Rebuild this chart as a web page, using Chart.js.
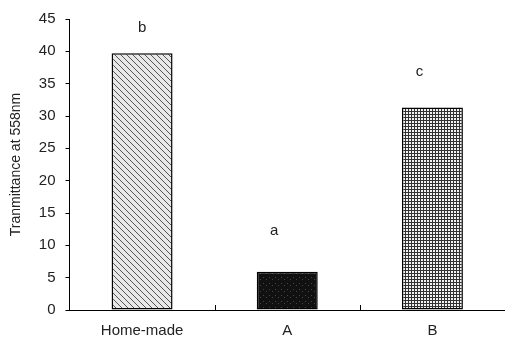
<!DOCTYPE html>
<html>
<head>
<meta charset="utf-8">
<script src="https://cdn.jsdelivr.net/npm/chart.js@4"></script>
<style>
  html, body { margin: 0; padding: 0; background: #fff; }
  #wrap { width: 505px; height: 347px; }
</style>
</head>
<body>
<div id="wrap"><canvas id="chart"></canvas></div>
<script>
var categories = ["Home-made", "A", "B"]
var values = [39.7, 5.9, 31.3]
var letters = ["b", "a", "c"]
var letterValues = [43.6, 12.2, 36.9]
var yTicks = [0, 5, 10, 15, 20, 25, 30, 35, 40, 45]

function makePattern(kind) {
  var c = document.createElement("canvas")
  c.width = 6
  c.height = 6
  var g = c.getContext("2d")
  if (kind === "diag") {
    g.fillStyle = "#e8e8e8"
    g.fillRect(0, 0, 6, 6)
    g.strokeStyle = "#555"
    g.lineWidth = 1
    g.beginPath()
    g.moveTo(0, 0); g.lineTo(6, 6)
    g.moveTo(-3, 3); g.lineTo(3, 9)
    g.moveTo(3, -3); g.lineTo(9, 3)
    g.stroke()
  } else if (kind === "grid") {
    c.width = 3; c.height = 3
    g.fillStyle = "#f2f2f2"
    g.fillRect(0, 0, 3, 3)
    g.fillStyle = "#333"
    g.fillRect(0, 0, 3, 1)
    g.fillRect(0, 0, 1, 3)
  } else {
    g.fillStyle = "#111"
    g.fillRect(0, 0, 6, 6)
    g.fillStyle = "#444"
    g.fillRect(2, 3, 1, 1)
    g.fillRect(5, 1, 1, 1)
  }
  return document.createElement("canvas").getContext("2d").createPattern(c, "repeat")
}

var letterPlugin = {
  id: "letters",
  afterDatasetsDraw: function(chart) {
    var ctx = chart.ctx
    var xs = chart.scales.x, ys = chart.scales.y
    ctx.save()
    ctx.fillStyle = "#222"
    ctx.font = "15px 'Liberation Sans', Arial, sans-serif"
    ctx.textAlign = "center"
    ctx.textBaseline = "middle"
    letters.forEach(function(l, i) {
      var dx = i === 0 ? 0 : -13
      ctx.fillText(l, xs.getPixelForValue(i) + dx, ys.getPixelForValue(letterValues[i]))
    })
    // small ticks between categories, pointing up
    ctx.strokeStyle = "#000"
    ctx.lineWidth = 1
    ctx.beginPath()
    for (var i = 0; i < categories.length - 1; i++) {
      var x = Math.round((xs.getPixelForValue(i) + xs.getPixelForValue(i + 1)) / 2) + 0.5
      ctx.moveTo(x, chart.chartArea.bottom)
      ctx.lineTo(x, chart.chartArea.bottom - 5)
    }
    ctx.stroke()
    ctx.restore()
  }
}

new Chart(document.getElementById("chart"), {
  type: "bar",
  data: {
    labels: categories,
    datasets: [{
      data: values,
      backgroundColor: [makePattern("diag"), makePattern("dark"), makePattern("grid")],
      borderColor: "#000",
      borderWidth: 1.5,
      borderSkipped: false,
      categoryPercentage: 1,
      barPercentage: 0.42
    }]
  },
  options: {
    responsive: true,
    maintainAspectRatio: false,
    animation: false,
    layout: { padding: { top: 0, right: 0, left: 8, bottom: -5 } },
    plugins: { legend: { display: false }, tooltip: { enabled: false } },
    scales: {
      x: {
        grid: { display: false, drawTicks: false },
        border: { color: "#000", width: 1 },
        ticks: { color: "#222", padding: 12, font: { size: 15, family: "'Liberation Sans', Arial, sans-serif" } }
      },
      y: {
        min: 0,
        max: 45,
        afterBuildTicks: function(scale) {
          scale.ticks = yTicks.map(function(v) { return { value: v } })
        },
        grid: { drawOnChartArea: false, tickLength: 4, color: "#000" },
        border: { color: "#000", width: 1 },
        ticks: { color: "#222", padding: 10, font: { size: 15, family: "'Liberation Sans', Arial, sans-serif" } },
        title: {
          display: true,
          text: "Tranmittance at 558nm",
          color: "#222",
          padding: { top: 0, bottom: 4 },
          font: { size: 14, family: "'Liberation Sans', Arial, sans-serif" }
        }
      }
    }
  },
  plugins: [letterPlugin]
})
</script>
</body>
</html>
